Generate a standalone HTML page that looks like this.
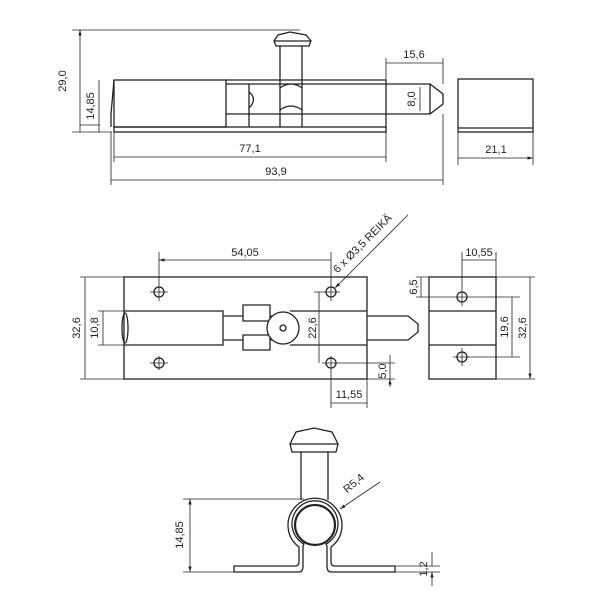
<!DOCTYPE html>
<html><head><style>body{margin:0;background:#fff}svg{display:block}text{font-family:"Liberation Sans",sans-serif;font-size:11px;fill:#222}</style></head><body>
<svg width="600" height="600" viewBox="0 0 600 600" xmlns="http://www.w3.org/2000/svg">
<defs><marker id="a" viewBox="0 0 10 10" refX="10" refY="5" markerWidth="7" markerHeight="7" orient="auto-start-reverse"><path d="M0,2 L10,5 L0,8z" fill="#222"/></marker></defs>
<g stroke="#222" fill="none" stroke-width="0.8">
<!-- TOP VIEW -->
<g stroke-width="1.3">
<rect x="114" y="80" width="112" height="47"/>
<rect x="114" y="127" width="272" height="5"/>
<path d="M111,114 L114,80 M111,114 V127"/>
<path d="M226,84 H386 M226,114 H386 M386,80 V127 M226,80 H386"/>
<path d="M249,84 V127 M249,92 Q258,99 249,108 M280,84 V127 M302,84 V127"/>
<path d="M280,46 V84 M302,46 V84 M280,88 Q291,80 302,88 M280,110 Q291,102 302,110"/>
<path d="M276,46 L274,41 L278,35 L290,32 L306,35 L311,41 L309,46 Z M274,41 H311"/>
<path d="M386,84 H430 L443,94 V104 L430,114 H386 M430,84 V114"/>
<rect x="458" y="79" width="75" height="53"/><path d="M458,128 H533"/>
</g>
<path d="M72,30 H300 M72,132 H112 M80,125 H100 M111,132 V185 M114,132 V162 M386,132 V162 M443,114 V185 M386,58 V80 M443,58 V84 M458,132 V165 M533,132 V165"/>
<path d="M80,30 V132 M99,80 V132 M386,63 H443 M420,87 V111 M114,157 H386 M111,180 H443 M458,158 H533" marker-start="url(#a)" marker-end="url(#a)"/>
<!-- MIDDLE VIEW -->
<g stroke-width="1.3">
<rect x="124" y="277" width="243" height="102"/>
<path d="M124,311 H223 V345 H124 M290,311 H367 M290,345 H367"/>
<ellipse cx="125" cy="328" rx="3" ry="15"/>
<path d="M223,316 H243 M223,340 H243 M243,305 H270 V321 H243 Z M243,335 H270 V350 H243 Z M270,316 H290 M270,340 H290"/>
<circle cx="283" cy="328" r="16" fill="#fff"/><circle cx="283" cy="328" r="3"/>
<path d="M367,316 H408 L418,324 V332 L408,340 H367"/>
<rect x="429" y="277" width="67" height="102"/><path d="M429,311 H496 M429,345 H496"/>
<circle cx="159" cy="292" r="5"/><circle cx="331" cy="292" r="5"/><circle cx="159" cy="363" r="5"/><circle cx="331" cy="363" r="5"/>
<circle cx="462" cy="297" r="5"/><circle cx="462" cy="357" r="5"/>
</g>
<path d="M150,292 H168 M322,292 H340 M150,363 H168 M322,363 H395 M159,285 V301 M331,285 V301 M159,356 V370 M331,356 V370 M453,297 H472 M462,288 V306 M453,357 H520 M462,348 V366 M462,252 V306 M496,252 V277 M80,277 H124 M80,379 H124 M98,311 H124 M98,345 H124 M367,379 H395 M331,370 V408 M367,379 V408 M314,292 H322 M416,277 H429 M416,297 H453 M472,297 H520 M496,277 H535 M496,379 H535 M159,252 V287 M331,252 V287"/>
<path d="M159,260 H331 M85,277 V379 M103,311 V345 M319,292 V363 M331,403 H367 M462,260 H496 M421,277 V297 M512,297 V357 M530,277 V379" marker-start="url(#a)" marker-end="url(#a)"/>
<path d="M390,355 V363 M390,387 V379" marker-end="url(#a)"/><path d="M390,363 V379"/>
<path d="M408,215 L335,288" marker-end="url(#a)"/>
<!-- BOTTOM VIEW -->
<g stroke-width="1.3">
<path d="M292,452 L290,444 L296,432 L314,428 L332,432 L338,444 L336,452 Z M290,444 H338"/>
<path d="M301,452 V500 M328,452 V500"/>
<path d="M234,572 H299 Q303,572 303,566 V548 Q303,545 304,544 A23,23 0 1 1 326,544 Q327,545 327,548 V566 Q327,572 331,572 H395 V566"/>
<path d="M234,572 V566 H295 Q299,566 299,562 V547 A27,27 0 1 1 331,547 V562 Q331,566 335,566 H395"/>
<circle cx="315" cy="525" r="20" stroke-width="2.2"/>
</g>
<path d="M183,499 H304 M183,572 H234 M395,566 H440 M395,572 H440"/>
<path d="M190,499 V572" marker-start="url(#a)" marker-end="url(#a)"/>
<path d="M432,552 V566 M432,586 V572" marker-end="url(#a)"/>
<path d="M380,482 L340,509" marker-end="url(#a)"/>
</g>
<!-- TEXT -->
<text x="66" y="81" transform="rotate(-90 66 81)" text-anchor="middle">29,0</text>
<text x="94" y="106" transform="rotate(-90 94 106)" text-anchor="middle">14,85</text>
<text x="414" y="58" text-anchor="middle">15,6</text>
<text x="415" y="99" transform="rotate(-90 415 99)" text-anchor="middle">8,0</text>
<text x="250" y="152" text-anchor="middle">77,1</text>
<text x="276" y="175" text-anchor="middle">93,9</text>
<text x="496" y="153" text-anchor="middle">21,1</text>
<text x="245" y="256" text-anchor="middle">54,05</text>
<text x="365" y="246" transform="rotate(-45 365 246)" text-anchor="middle" font-size="10">6 x Ø3,5 REIKÄ</text>
<text x="80" y="328" transform="rotate(-90 80 328)" text-anchor="middle">32,6</text>
<text x="98" y="328" transform="rotate(-90 98 328)" text-anchor="middle">10,8</text>
<text x="316" y="328" transform="rotate(-90 316 328)" text-anchor="middle">22,6</text>
<text x="386" y="371" transform="rotate(-90 386 371)" text-anchor="middle">5,0</text>
<text x="349" y="398" text-anchor="middle">11,55</text>
<text x="479" y="256" text-anchor="middle">10,55</text>
<text x="417" y="287" transform="rotate(-90 417 287)" text-anchor="middle">6,5</text>
<text x="508" y="327" transform="rotate(-90 508 327)" text-anchor="middle">19,6</text>
<text x="526" y="328" transform="rotate(-90 526 328)" text-anchor="middle">32,6</text>
<text x="183" y="535" transform="rotate(-90 183 535)" text-anchor="middle" font-size="14">14,85</text>
<text x="356" y="486" transform="rotate(-40 356 486)" text-anchor="middle" font-size="14">R5,4</text>
<text x="427" y="569" transform="rotate(-90 427 569)" text-anchor="middle" font-size="13">1,2</text>
</svg>
</body></html>
